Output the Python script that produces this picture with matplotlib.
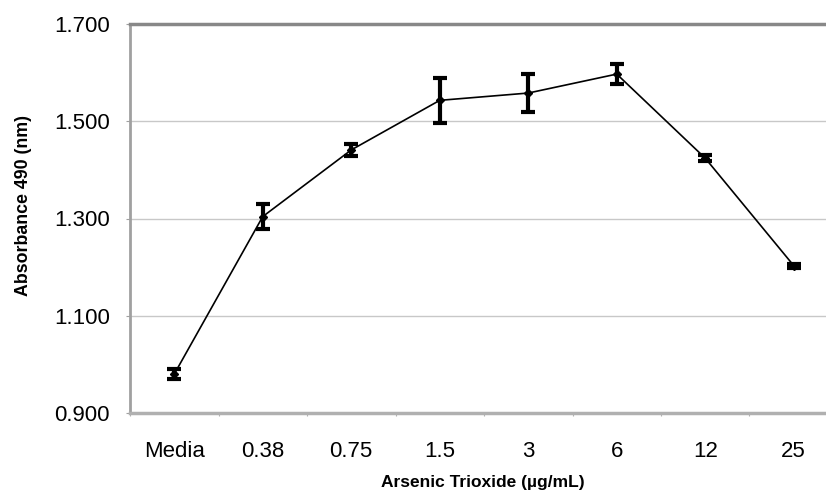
import numpy as np
import matplotlib.pyplot as plt
from matplotlib.ticker import FixedLocator, FormatStrFormatter

plt.rcParams['font.family'] = ['Liberation Sans', 'DejaVu Sans']

# 数据
doses = ["Media", "0.38", "0.75", "1.5", "3", "6", "12", "25"]
absorbance = [0.980, 1.304, 1.441, 1.543, 1.558, 1.597, 1.424, 1.203]
err = [0.010, 0.026, 0.012, 0.046, 0.039, 0.020, 0.006, 0.004]

fig = plt.figure(figsize=(8.26, 4.93), dpi=100)
ax = fig.add_axes([130 / 826, 80 / 493, 708 / 826, 389 / 493])

x = np.arange(len(doses))
ax.errorbar(x, absorbance, yerr=err, color="black", linewidth=1.2,
            marker="D", markersize=4, ecolor="black", elinewidth=3,
            capsize=5, capthick=3, zorder=3)

ax.set_xlim(-0.5, len(doses) - 0.5)
ax.set_ylim(0.9, 1.7)
ax.set_yticks([0.9, 1.1, 1.3, 1.5, 1.7])
ax.yaxis.set_major_formatter(FormatStrFormatter("%.3f"))
ax.grid(axis="y", color="#c8c8c8", linewidth=1)
ax.set_axisbelow(True)

# 分类轴：刻度在边界，标签在中间
ax.xaxis.set_major_locator(FixedLocator(np.arange(len(doses) + 1) - 0.5))
ax.xaxis.set_minor_locator(FixedLocator(x))
ax.set_xticklabels([], minor=False)
ax.set_xticklabels(doses, minor=True)
ax.tick_params(axis="x", which="major", length=2, color="#b0b0b0", direction="out")
ax.tick_params(axis="x", which="minor", length=0, pad=20, labelsize=16)
ax.tick_params(axis="y", length=3, color="#a0a0a0", pad=11.5, labelsize=16)

ax.spines["top"].set_color("#888888")
ax.spines["top"].set_linewidth(2.5)
ax.spines["left"].set_color("#a0a0a0")
ax.spines["left"].set_linewidth(2)
ax.spines["bottom"].set_color("#b0b0b0")
ax.spines["bottom"].set_linewidth(2.5)
ax.spines["right"].set_visible(False)

fig.text(483 / 826, 1 - 483 / 493, "Arsenic Trioxide (µg/mL)", fontsize=12.5,
         fontweight="bold", ha="center", va="center")
fig.text(24 / 826, 1 - 205 / 493, "Absorbance 490 (nm)", fontsize=12.8,
         fontweight="bold", ha="center", va="center", rotation=90)

fig.savefig("out.png", dpi=100)
